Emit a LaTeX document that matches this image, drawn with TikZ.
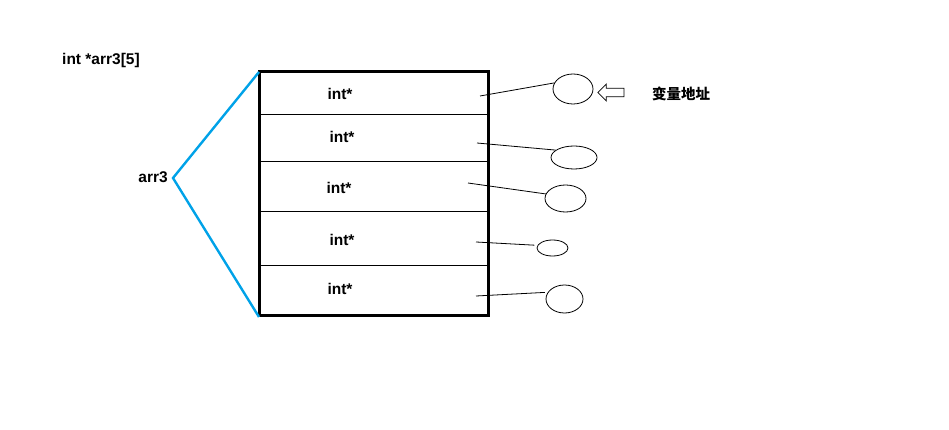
\documentclass[tikz,border=0pt]{standalone}
\usepackage{fontspec}
\setmainfont{Liberation Sans}
\newfontfamily\cjk{Noto Sans CJK SC}
\usetikzlibrary{shapes.geometric,shapes.arrows}

\definecolor{cblue}{RGB}{0,162,232}   %paint blue

\tikzset{
  lbl/.style={font=\fontsize{15.5}{18}\selectfont\bfseries,inner sep=0pt},
  cell/.style={draw,line width=0.8pt},
  slot/.style={ellipse,draw,line width=0.8pt,inner sep=0pt},
  ptr/.style={line width=0.8pt}
}

\begin{document}
\begin{tikzpicture}[x=1pt,y=-1pt]
\useasboundingbox (0,0) rectangle (949,430);

% title and name
\node[lbl,anchor=west] (decl) at (62,60) {int *arr3[5]};
\node[lbl,anchor=east] (name) at (168,177) {arr3};

% the array
\draw[line width=3pt] (259,72) rectangle (488,315);
\foreach \y in {114,161,211.5,265.5}
  \draw[cell] (259,\y) -- (488,\y);
\node[lbl] (r1) at (340,94) {int*};
\node[lbl] (r2) at (342,137) {int*};
\node[lbl] (r3) at (339,188) {int*};
\node[lbl] (r4) at (342,240) {int*};
\node[lbl] (r5) at (340,289) {int*};

% brace towards the name
\coordinate (top) at (259,72);
\coordinate (tip) at (173,178);
\coordinate (bot) at (259,317);
\draw[cblue,line width=2.4pt,line join=miter] (top) -- (tip) -- (bot);

% pointed-to variables
\node[slot,minimum width=40pt,minimum height=30pt] (e1) at (573,89) {};
\node[slot,minimum width=46pt,minimum height=23pt] (e2) at (574,157.5) {};
\node[slot,minimum width=41pt,minimum height=27pt] (e3) at (565.5,198.5) {};
\node[slot,minimum width=31pt,minimum height=16pt] (e4) at (552.5,248) {};
\node[slot,minimum width=37pt,minimum height=28pt] (e5) at (564.5,299) {};

\coordinate (p1) at (480,96);
\coordinate (p2) at (477,143);
\coordinate (p3) at (468,183);
\coordinate (p4) at (476,242);
\coordinate (p5) at (476,296);
\draw[ptr] (p1) -- (e1.162);
\draw[ptr] (p2) -- (e2.158);
\draw[ptr] (p3) -- (e3.167);
\draw[ptr,shorten >=3pt] (p4) -- (e4.170);
\draw[ptr,shorten >=3pt] (p5) -- (e5.158);

% address hint
\node[single arrow,draw,line width=0.8pt,shape border rotate=180,
      minimum height=26pt,inner xsep=0pt,inner ysep=3.8pt,
      single arrow head extend=4.2pt] (hint) at (613,92.5) {};
\node[font=\cjk\fontsize{14.5}{17}\selectfont\bfseries,inner sep=0pt] (addr) at (681,94) {变量地址};
\end{tikzpicture}
\end{document}
